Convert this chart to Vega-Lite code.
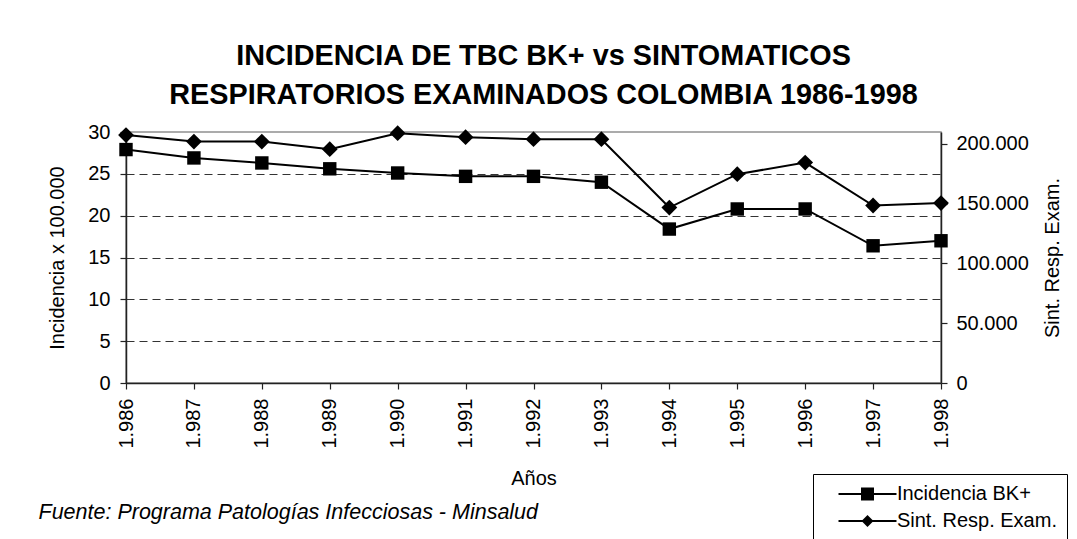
{
  "$schema": "https://vega.github.io/schema/vega-lite/v6.json",
  "width": 815,
  "height": 251,
  "autosize": {"type": "none"},
  "padding": {"left": 126, "top": 132, "right": 136, "bottom": 156},
  "background": "white",
  "config": {
    "font": "Liberation Sans",
    "view": {"stroke": "#909090", "strokeWidth": 1.5},
    "axis": {
      "labelFont": "Liberation Sans",
      "labelFontSize": 20,
      "labelColor": "black",
      "titleFont": "Liberation Sans",
      "titleFontSize": 20,
      "titleFontWeight": "normal",
      "titleColor": "black",
      "domainColor": "#222",
      "domainWidth": 1.5,
      "tickColor": "#222",
      "tickWidth": 1.2,
      "tickSize": 6
    }
  },
  "title": {
    "text": ["INCIDENCIA DE TBC BK+ vs SINTOMATICOS", "RESPIRATORIOS EXAMINADOS COLOMBIA 1986-1998"],
    "font": "Liberation Sans",
    "fontSize": 28.8,
    "fontWeight": "bold",
    "lineHeight": 39,
    "color": "black",
    "anchor": "middle",
    "dx": 10,
    "offset": 12
  },
  "data": {
    "values": [
      {"year": 1986, "incidencia": 27.9, "sint": 207400},
      {"year": 1987, "incidencia": 26.9, "sint": 202000},
      {"year": 1988, "incidencia": 26.3, "sint": 202000},
      {"year": 1989, "incidencia": 25.6, "sint": 195600},
      {"year": 1990, "incidencia": 25.1, "sint": 209000},
      {"year": 1991, "incidencia": 24.7, "sint": 205700},
      {"year": 1992, "incidencia": 24.7, "sint": 204000},
      {"year": 1993, "incidencia": 24.0, "sint": 204000},
      {"year": 1994, "incidencia": 18.4, "sint": 146800},
      {"year": 1995, "incidencia": 20.8, "sint": 174700},
      {"year": 1996, "incidencia": 20.8, "sint": 184400},
      {"year": 1997, "incidencia": 16.4, "sint": 148500},
      {"year": 1998, "incidencia": 17.0, "sint": 150500}
    ]
  },
  "layer": [
    {
      "layer": [
        {
          "mark": {"type": "line", "color": "black", "strokeWidth": 2},
          "encoding": {
            "x": {
              "field": "year", "type": "quantitative",
              "scale": {"domain": [1986, 1998], "nice": false, "zero": false},
              "axis": {
                "title": "Años",
                "values": [1986, 1987, 1988, 1989, 1990, 1991, 1992, 1993, 1994, 1995, 1996, 1997, 1998],
                "labelExpr": "'1.' + substring(toString(datum.value), 1)",
                "labelAngle": 270,
                "labelAlign": "right",
                "labelBaseline": "middle",
                "labelPadding": 9,
                "grid": false,
                "titleX": 407.5,
                "titleY": 95,
                "titleBaseline": "middle",
                "titleAlign": "center"
              }
            },
            "y": {
              "field": "incidencia", "type": "quantitative",
              "scale": {"domain": [0, 30], "nice": false},
              "axis": {
                "title": "Incidencia x 100.000",
                "values": [0, 5, 10, 15, 20, 25, 30],
                "labelPadding": 10,
                "grid": true,
                "gridColor": "#333333",
                "gridDash": [8, 5],
                "gridWidth": 1,
                "gridOpacity": {"condition": {"test": "datum.value === 30", "value": 0}, "value": 1},
                "titleX": -69,
                "titleY": 125.5,
                "titleAngle": 270,
                "titleBaseline": "middle",
                "titleAlign": "center"
              }
            }
          }
        },
        {
          "mark": {"type": "point", "shape": "square", "size": 180, "filled": true, "color": "black", "opacity": 1},
          "encoding": {
            "x": {"field": "year", "type": "quantitative"},
            "y": {"field": "incidencia", "type": "quantitative"}
          }
        }
      ]
    },
    {
      "layer": [
        {
          "mark": {"type": "line", "color": "black", "strokeWidth": 2},
          "encoding": {
            "x": {"field": "year", "type": "quantitative"},
            "y": {
              "field": "sint", "type": "quantitative",
              "scale": {"domain": [0, 210000], "nice": false},
              "axis": {
                "orient": "right",
                "title": "Sint. Resp. Exam.",
                "values": [0, 50000, 100000, 150000, 200000],
                "labelExpr": "replace(format(datum.value, ','), ',', '.')",
                "labelPadding": 9,
                "grid": false,
                "titleX": 111,
                "titleY": 125.5,
                "titleAngle": 270,
                "titleBaseline": "middle",
                "titleAlign": "center"
              }
            }
          }
        },
        {
          "mark": {"type": "point", "shape": "diamond", "size": 250, "filled": true, "color": "black", "opacity": 1},
          "encoding": {
            "x": {"field": "year", "type": "quantitative"},
            "y": {"field": "sint", "type": "quantitative"}
          }
        }
      ]
    },
    {
      "transform": [{"filter": "datum.year < 0"}],
      "mark": {"type": "point", "filled": true, "color": "black", "opacity": 1},
      "encoding": {
        "y": {
          "field": "incidencia", "type": "quantitative",
          "scale": {"domain": [0, 30]},
          "axis": {
            "title": "Fuente: Programa Patologías Infecciosas - Minsalud",
            "titleFontStyle": "italic",
            "titleFontSize": 21.5,
            "titleAngle": 0,
            "labels": false,
            "ticks": false,
            "domain": false,
            "grid": false,
            "titleX": -88,
            "titleY": 380,
            "titleAlign": "left",
            "titleBaseline": "middle"
          }
        },
        "shape": {
          "field": "series", "type": "nominal",
          "scale": {
            "domain": ["Incidencia BK+", "Sint. Resp. Exam."],
            "range": ["M-4.46,-0.154H4.46V0.154H-4.46ZM-1,-1H1V1H-1Z", "M-4.46,-0.154H4.46V0.154H-4.46ZM-0.92,0L0,-0.92L0.92,0L0,0.92Z"]
          },
          "legend": {
            "title": null,
            "orient": "none",
            "legendX": 687,
            "legendY": 342,
            "strokeColor": "black",
            "fillColor": "white",
            "padding": 10,
            "symbolSize": 169,
            "symbolOffset": 34.5,
            "labelOffset": 19.4,
            "labelLimit": 400,
            "symbolFillColor": "black",
            "rowPadding": 7,
            "labelFont": "Liberation Sans",
            "labelFontSize": 20,
            "labelColor": "black"
          }
        }
      }
    }
  ],
  "resolve": {"scale": {"y": "independent"}}
}
